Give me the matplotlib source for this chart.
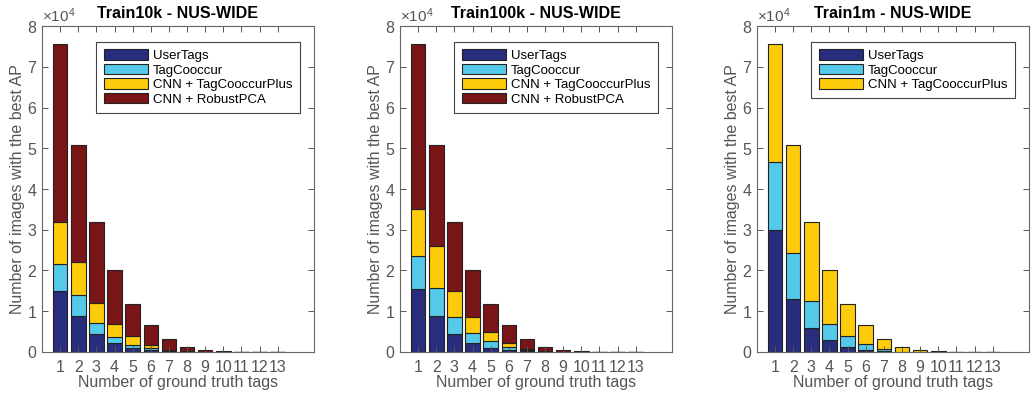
import numpy as np
import matplotlib.pyplot as plt
from matplotlib.ticker import ScalarFormatter

plt.rcParams['font.family'] = ['Liberation Sans', 'DejaVu Sans']
plt.rcParams['mathtext.fontset'] = 'custom'
plt.rcParams['mathtext.rm'] = 'Liberation Sans'

tags = np.arange(1, 14)

# counts of images, per number of ground truth tags
user_10k = [15000, 8800, 4300, 2200, 1000, 500, 200, 50, 20, 10, 5, 5, 5]
cooc_10k = [6500, 5200, 2700, 1400, 800, 400, 100, 30, 10, 5, 3, 3, 3]
cnnp_10k = [10500, 8000, 5000, 3200, 2000, 900, 300, 70, 20, 10, 5, 5, 5]
rpca_10k = [43500, 28800, 20000, 13200, 8000, 4700, 2600, 1050, 350, 125, 87, 70, 87]

user_100k = [15500, 8800, 4300, 2200, 1000, 500, 300, 80, 20, 10, 5, 5, 5]
cooc_100k = [8000, 6900, 4200, 2500, 1700, 700, 200, 50, 10, 5, 3, 3, 3]
cnnp_100k = [11500, 10300, 6500, 3900, 2100, 1000, 300, 70, 20, 10, 5, 5, 5]
rpca_100k = [40500, 24800, 17000, 11400, 7000, 4300, 2400, 1000, 350, 125, 87, 70, 87]

user_1m = [30000, 12900, 6000, 3000, 1300, 500, 200, 50, 20, 10, 5, 5, 5]
cooc_1m = [16700, 11400, 6500, 3900, 2600, 1400, 600, 50, 20, 10, 5, 5, 5]
cnnp_1m = [28800, 26500, 19500, 13100, 7900, 4600, 2400, 1100, 360, 130, 90, 70, 90]

names = ['UserTags', 'TagCooccur', 'CNN + TagCooccurPlus', 'CNN + RobustPCA']
colors = ['#282d7d', '#55c9e9', '#fdcb0a', '#7a1517']

panels = [
    ('Train10k - NUS-WIDE', [user_10k, cooc_10k, cnnp_10k, rpca_10k]),
    ('Train100k - NUS-WIDE', [user_100k, cooc_100k, cnnp_100k, rpca_100k]),
    ('Train1m - NUS-WIDE', [user_1m, cooc_1m, cnnp_1m]),
]
lefts = [0.0407, 0.3876, 0.7335]

fig = plt.figure(figsize=(10.32, 3.97), dpi=100)
gray = '#555555'

for (title, series), left in zip(panels, lefts):
    ax = fig.add_axes([left, 0.1134, 0.2635, 0.821])
    bottom = np.zeros(len(tags))
    for vals, name, col in zip(series, names, colors):
        vals = np.array(vals, dtype=float)
        ax.bar(tags, vals, 0.8, bottom=bottom, color=col, edgecolor='#222222',
               linewidth=0.8, label=name)
        bottom += vals
    ax.set_xlim(0, 15)
    ax.set_ylim(0, 80000)
    ax.set_xticks(tags)
    ax.set_yticks(np.arange(0, 80001, 10000))
    fmt = ScalarFormatter(useMathText=True)
    fmt.set_powerlimits((4, 4))
    ax.yaxis.set_major_formatter(fmt)
    ax.yaxis.get_offset_text().set_color(gray)
    ax.yaxis.get_offset_text().set_fontsize(11)
    ax.tick_params(direction='in', top=True, right=True, length=4, width=0.7,
                   colors=gray, labelsize=11.5)
    ax.tick_params(axis='x', pad=6)
    for s in ax.spines.values():
        s.set_color('#666666')
        s.set_linewidth(0.8)
    ax.set_xlabel('Number of ground truth tags', fontsize=11.5, color=gray, labelpad=0)
    ax.set_ylabel('Number of images with the best AP', fontsize=11.5, color=gray, labelpad=1)
    ax.set_title(title, fontsize=11.5, fontweight='bold', pad=6)
    leg = ax.legend(loc='upper right', bbox_to_anchor=(0.948, 0.951), fontsize=9.5,
                    handlelength=3.4, handleheight=0.85, labelspacing=0.13,
                    handletextpad=0.35, borderpad=0.55, borderaxespad=0,
                    fancybox=False, framealpha=1, edgecolor='#444444')
    leg.get_frame().set_linewidth(0.8)

fig.savefig('out.png', dpi=100)
